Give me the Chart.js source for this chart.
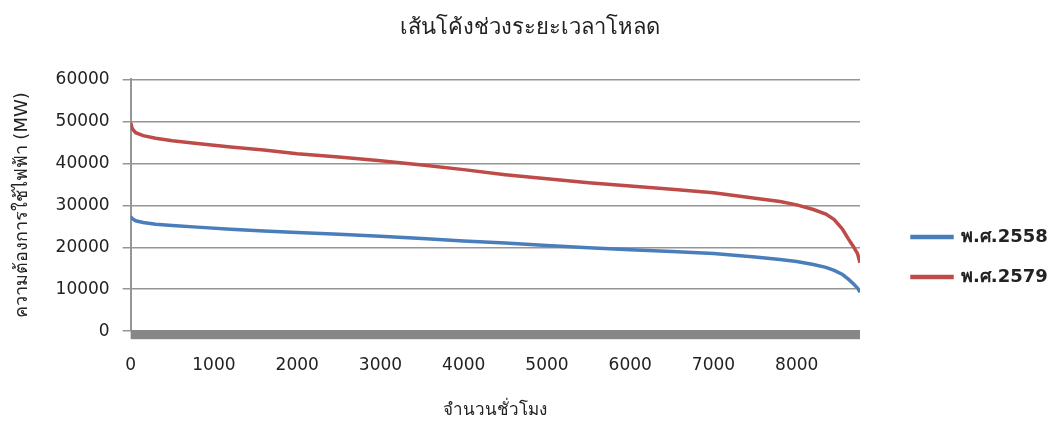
<!DOCTYPE html>
<html>
<head>
<meta charset="utf-8">
<script src="https://cdn.jsdelivr.net/npm/chart.js@4.4.1/dist/chart.umd.min.js"></script>
<style>
  html, body { margin: 0; padding: 0; background: #fff; }
  #wrap { width: 1051px; height: 423px; }
</style>
</head>
<body>
<div id="wrap"><canvas id="chart"></canvas></div>
<script>
// hours of the year, sorted load from highest to lowest
const hours = [0, 20, 60, 150, 300, 500, 800, 1200, 1600, 2000, 2500, 3000, 3500, 4000, 4500,
  5000, 5500, 6000, 6500, 7000, 7500, 7800, 8000, 8200, 8350, 8450, 8550, 8620, 8680, 8730, 8760];

const load2558 = [27300, 26800, 26300, 25900, 25500, 25200, 24800, 24300, 23900, 23500, 23100, 22600, 22100, 21500, 21000,
  20400, 19900, 19400, 19000, 18500, 17700, 17100, 16600, 15900, 15200, 14500, 13500, 12400, 11300, 10300, 9300];

const load2579 = [49700, 48200, 47300, 46600, 46000, 45400, 44700, 43900, 43200, 42300, 41500, 40600, 39600, 38500, 37300,
  36300, 35400, 34600, 33800, 33000, 31700, 30900, 30100, 29000, 27900, 26600, 24300, 22000, 20200, 18500, 16300];

const seriesNames = ['พ.ศ.2558', 'พ.ศ.2579'];
const xTicks = [0, 1000, 2000, 3000, 4000, 5000, 6000, 7000, 8000];
const yTicks = [0, 10000, 20000, 30000, 40000, 50000, 60000];

const FONT = "Tahoma, 'DejaVu Sans', sans-serif";
const TEXT = '#222';

function points(ys) {
  return hours.map((h, i) => ({x: h, y: ys[i]}));
}

// heavy grey base bar under the plot
const baseBar = {
  id: 'baseBar',
  beforeDatasetsDraw(chart) {
    const {ctx, chartArea} = chart;
    ctx.save();
    ctx.fillStyle = '#878787';
    ctx.fillRect(chartArea.left, chartArea.bottom - 1, chartArea.right - chartArea.left, 9);
    ctx.restore();
  }
};

const ctx = document.getElementById('chart');
const chart = new Chart(ctx, {
  type: 'line',
  data: {
    datasets: [{
      label: seriesNames[0],
      data: points(load2558),
      borderColor: '#4A7EBB',
      backgroundColor: '#4A7EBB',
      borderWidth: 3.5,
      pointRadius: 0,
      tension: 0
    }, {
      label: seriesNames[1],
      data: points(load2579),
      borderColor: '#BE4B48',
      backgroundColor: '#BE4B48',
      borderWidth: 3.5,
      pointRadius: 0,
      tension: 0
    }]
  },
  plugins: [baseBar],
  options: {
    responsive: true,
    maintainAspectRatio: false,
    animation: false,
    layout: {
      padding: {left: 8, right: 0, top: 0, bottom: 0}
    },
    plugins: {
      title: {
        display: true,
        text: 'เส้นโค้งช่วงระยะเวลาโหลด',
        color: TEXT,
        font: {family: FONT, size: 22, weight: 'normal'},
        padding: {top: 15, bottom: 38}
      },
      legend: {
        position: 'right',
        align: 'start',
        fullSize: true,
        maxWidth: 161,
        // empty title pushes the entries down
        title: {
          display: true,
          text: ' ',
          font: {size: 12},
          padding: {top: 180, bottom: 11.6}
        },
        labels: {
          boxWidth: 40,
          boxHeight: 1,
          padding: 22,
          color: TEXT,
          font: {family: FONT, size: 18, weight: 'bold'}
        }
      },
      tooltip: {enabled: false}
    },
    scales: {
      x: {
        type: 'linear',
        min: 0,
        max: 8760,
        afterBuildTicks(axis) {
          axis.ticks = xTicks.map(v => ({value: v}));
        },
        grid: {display: false},
        border: {display: false},
        ticks: {
          color: TEXT,
          font: {family: FONT, size: 17},
          padding: 16,
          maxRotation: 0,
          callback: v => String(v)
        },
        title: {
          display: true,
          text: 'จำนวนชั่วโมง',
          color: TEXT,
          font: {family: FONT, size: 17},
          padding: {top: 9, bottom: 2}
        }
      },
      y: {
        min: 0,
        max: 60000,
        afterBuildTicks(axis) {
          axis.ticks = yTicks.map(v => ({value: v}));
        },
        grid: {color: '#969696', lineWidth: 1.5, tickLength: 8},
        border: {color: '#969696', width: 2},
        ticks: {
          color: TEXT,
          font: {family: FONT, size: 17},
          padding: 13,
          callback: v => String(v)
        },
        title: {
          display: true,
          text: 'ความต้องการใช้ไฟฟ้า (MW)',
          color: TEXT,
          font: {family: FONT, size: 18},
          padding: {top: 4, bottom: 9}
        }
      },
      // blank strip between plot and legend
      gap: {
        type: 'linear',
        position: 'right',
        grid: {display: false},
        border: {display: false},
        ticks: {display: false},
        afterFit(scale) {
          scale.width = 30;
        }
      }
    }
  }
});
</script>
</body>
</html>
